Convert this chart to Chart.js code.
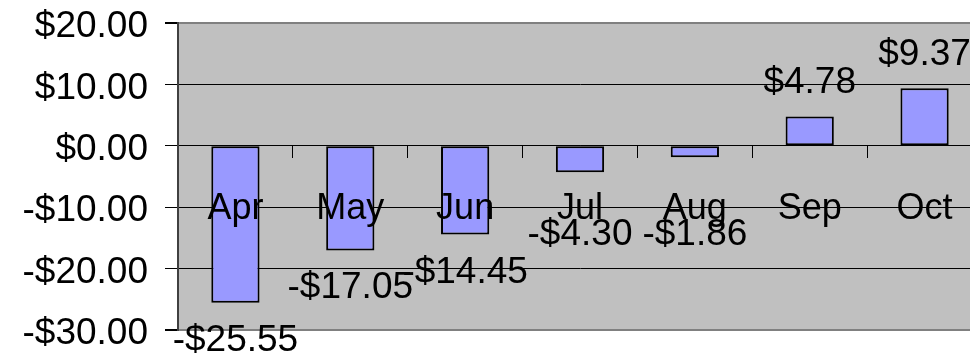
<!DOCTYPE html>
<html>
<head>
<meta charset="utf-8">
<script src="https://cdn.jsdelivr.net/npm/chart.js@4/dist/chart.umd.min.js"></script>
<style>
  html, body { margin: 0; padding: 0; background: #fff; overflow: hidden; }
  #wrap { width: 970px; height: 361px; overflow: hidden; }
</style>
</head>
<body>
<div id="wrap"><canvas id="chart" width="985" height="361"></canvas></div>
<script>
const months = ['Apr', 'May', 'Jun', 'Jul', 'Aug', 'Sep', 'Oct'];
const change = [-25.55, -17.05, -14.45, -4.30, -1.86, 4.78, 9.37];
const yTicks = [-30, -20, -10, 0, 10, 20];

const money = (v) => (v < 0 ? '-$' : '$') + Math.abs(v).toFixed(2);
const FONT = '"Liberation Sans", Arial, sans-serif';

/* ---------- plot background ---------- */
const plotBg = {
  id: 'plotBg',
  beforeDraw(chart) {
    const { ctx, chartArea: a } = chart;
    ctx.save();
    ctx.fillStyle = '#C0C0C0';
    ctx.fillRect(a.left, a.top, a.right - a.left, a.bottom - a.top);
    ctx.restore();
  }
};

/* ---------- value labels at bar ends ---------- */
const valueLabels = {
  id: 'valueLabels',
  afterDatasetsDraw(chart) {
    const { ctx } = chart;
    const zero = chart.scales.y.getPixelForValue(0);
    ctx.save();
    ctx.font = '37px ' + FONT;
    ctx.fillStyle = '#000';
    ctx.textAlign = 'center';
    ctx.textBaseline = 'alphabetic';
    chart.getDatasetMeta(0).data.forEach((bar, i) => {
      const v = change[i];
      let y;
      if (v >= 0) {
        y = bar.y - 23;
      } else {
        // keep clear of the month labels under the axis
        y = Math.max(bar.y + 48, zero + 99);
      }
      ctx.fillText(money(v), bar.x, y);
    });
    ctx.restore();
  }
};

new Chart(document.getElementById('chart'), {
  type: 'bar',
  data: {
    labels: months,
    datasets: [{
      data: change,
      backgroundColor: '#9999FF',
      borderColor: '#000',
      borderWidth: 2,
      borderSkipped: false,
      barPercentage: 0.42,
      categoryPercentage: 1
    }]
  },
  options: {
    responsive: false,
    animation: false,
    devicePixelRatio: 1,
    layout: { padding: { top: 23, bottom: 31, left: 0, right: 3 } },
    plugins: { legend: { display: false }, tooltip: { enabled: false } },
    scales: {
      x: {
        position: { y: 0 },
        afterFit: (s) => { s.height = 0; s.paddingTop = 0; s.paddingBottom = 0; },
        grid: { offset: true, drawOnChartArea: false, tickLength: 12, color: '#000' },
        border: { display: true, color: '#000', width: 1 },
        ticks: { z: 1, color: '#000', font: { family: FONT, size: 36 }, padding: 30, autoSkip: false, maxRotation: 0 }
      },
      y: {
        min: yTicks[0],
        max: yTicks[yTicks.length - 1],
        afterFit: (s) => { s.width = 178; s.paddingTop = 0; s.paddingBottom = 0; },
        afterBuildTicks: (s) => { s.ticks = yTicks.map(v => ({ value: v })); },
        grid: {
          color: (c) => (c.tick && (c.tick.value === 20 || c.tick.value === -30)) ? '#808080' : '#000',
          lineWidth: (c) => (c.tick && (c.tick.value === 20 || c.tick.value === -30)) ? 2 : 1,
          tickColor: '#000',
          tickLength: 13
        },
        border: { color: '#404040', width: 2 },
        ticks: {
          color: '#000',
          font: { family: FONT, size: 37 },
          padding: 17,
          labelOffset: 4,
          callback: (v) => money(v)
        }
      }
    }
  },
  plugins: [plotBg, valueLabels]
});
</script>
</body>
</html>
